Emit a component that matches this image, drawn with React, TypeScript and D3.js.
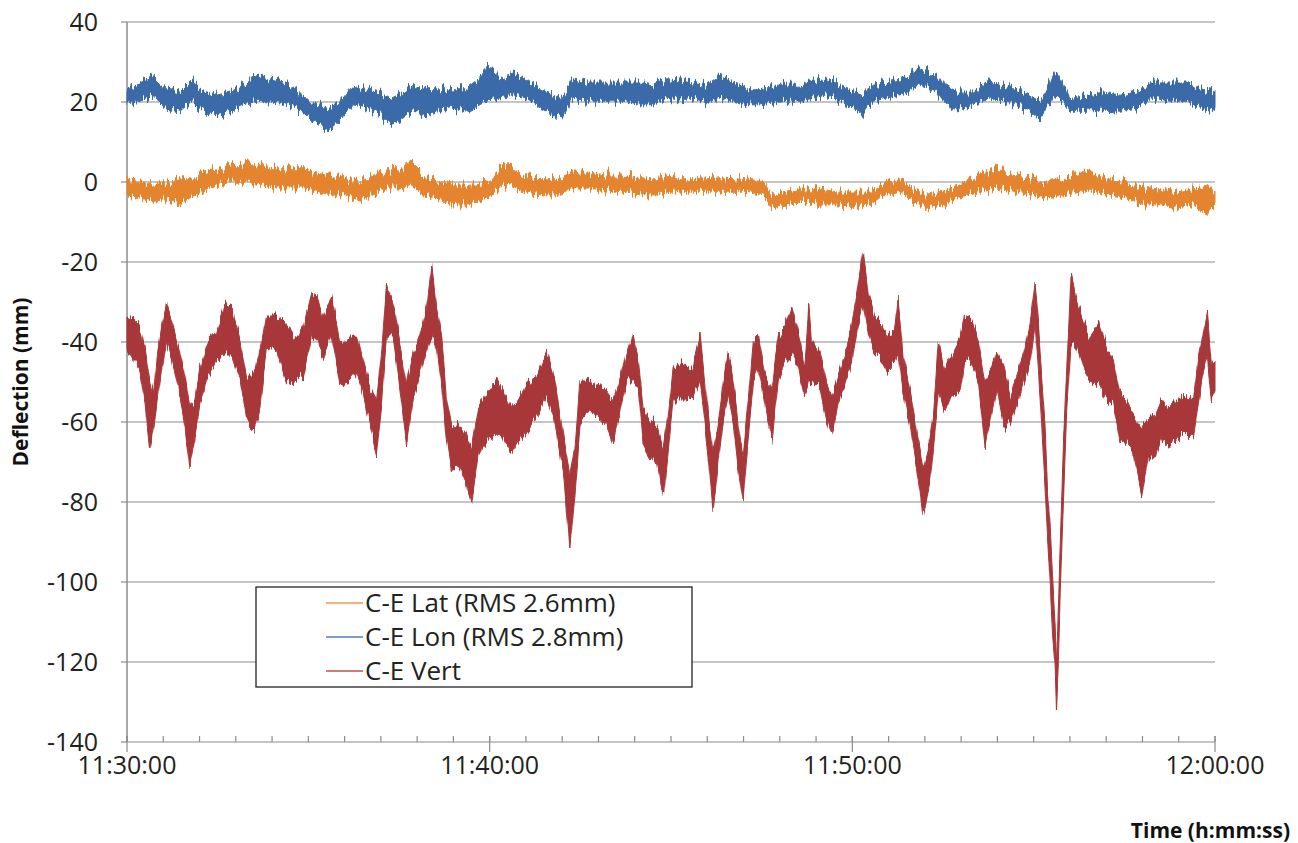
import React from "react";
import * as d3 from "d3";

// minutes after 11:30:00, with the lower / upper edge of the noisy trace (mm)
const latTime = [0, 0.36, 0.73, 1.09, 1.46, 1.83, 2.1, 2.47, 2.84, 3.35, 3.76, 4.13, 4.5, 4.86, 5.24, 5.6, 6.06, 6.43, 6.79, 7.16, 7.53, 7.8, 8.17, 8.54, 9.0, 9.46, 9.92, 10.28, 10.56, 10.93, 11.39, 11.85, 12.3, 12.76, 13.23, 13.69, 14.14, 14.6, 14.97, 15.25, 15.61, 16.35, 17.09, 17.55, 17.78, 18.2, 18.65, 19.11, 19.57, 20.03, 20.49, 20.86, 21.32, 21.68, 22.05, 22.51, 22.88, 23.52, 23.98, 24.44, 24.9, 25.36, 25.82, 26.28, 26.65, 27.11, 27.57, 28.03, 28.49, 28.95, 29.4, 29.77, 30];
const latLo = [-3.7, -4.5, -5.3, -4.9, -6, -4, -2.8, -1.2, -0.3, -0.3, -1.2, -2, -2, -2, -2.8, -3.7, -3.7, -5.3, -3.7, -2, -2, -1.2, -3.7, -4.5, -6.2, -6.2, -4.5, -2, -1.2, -2.8, -3.7, -3.7, -2, -2, -2.8, -2.8, -3.7, -3.7, -2.8, -2.8, -2.8, -2.8, -2.8, -3.7, -7, -6.2, -5.3, -6.2, -6.2, -6.6, -6.2, -3.7, -2.8, -5.3, -7, -6.2, -4.5, -2.8, -2, -2.8, -3.7, -4.5, -3.7, -2.8, -2.8, -3.7, -4.5, -6.2, -6.2, -7, -6.2, -8.5, -6.2];
const latHi = [1.3, 0.5, -0.3, 0.5, 1.3, 1.3, 3, 3.8, 4.7, 5.5, 4.7, 3.8, 3.8, 3.8, 3, 2.2, 1.3, 0.5, 2.2, 3, 3.8, 5.5, 2.2, 0.5, -0.3, -0.3, 0.5, 3.8, 4.7, 2.2, 1.3, 1.3, 3, 3, 2.2, 2.2, 1.3, 1.3, 2.2, 1.3, 1.3, 1.8, 1.3, 0.5, -2.8, -2, -1.2, -1.2, -2, -2, -2, 0.5, 1.3, -1.2, -2.8, -2, -0.3, 2.2, 3.8, 2.2, 1.3, 0.5, 1.3, 3, 2.2, 1.3, 0.5, -1.2, -1.2, -2, -1.2, -0.3, -2];

const lonTime = [0, 0.36, 0.73, 1.09, 1.46, 1.78, 2.1, 2.47, 2.84, 3.21, 3.58, 3.94, 4.31, 4.68, 5.0, 5.32, 5.55, 5.87, 6.24, 6.61, 6.98, 7.25, 7.53, 7.9, 8.26, 8.63, 9.0, 9.37, 9.73, 9.93, 10.28, 10.65, 11.02, 11.39, 11.75, 11.98, 12.3, 12.67, 13.04, 13.41, 13.78, 14.14, 14.51, 14.88, 15.25, 15.61, 15.98, 16.35, 16.72, 17.09, 17.46, 17.83, 18.2, 18.56, 18.93, 19.3, 19.67, 20.03, 20.26, 20.58, 20.95, 21.32, 21.68, 21.95, 22.32, 22.6, 22.88, 23.34, 23.8, 24.17, 24.54, 24.9, 25.18, 25.41, 25.63, 25.82, 26.0, 26.47, 26.93, 27.38, 27.84, 28.3, 28.76, 29.22, 29.59, 30];
const lonLo = [19, 19.7, 21, 18, 17.2, 19.7, 17.2, 16.3, 17.2, 18.8, 19.7, 19.5, 19.2, 18, 15.5, 13.8, 12.2, 14.7, 18.8, 18, 16.3, 13.8, 14.7, 17.2, 16.3, 17.2, 18, 17.2, 18.8, 20, 20.5, 21.3, 20.5, 18, 16.3, 15.5, 20.5, 19.7, 19.7, 19.7, 19.7, 18.8, 18.8, 20.5, 20, 20.5, 19.3, 20.5, 19.7, 18.8, 18.8, 19.3, 19.7, 19.7, 20.5, 21.3, 19.7, 18, 16.5, 19.7, 20.5, 21.3, 23, 23.8, 22.2, 18.8, 17.5, 18.8, 20.5, 19.7, 18.8, 17.2, 15, 18.8, 21.3, 19.7, 17.2, 17.2, 17.5, 17.2, 18, 20.5, 19.7, 19.7, 18, 17.2];
const lonHi = [24, 25, 26.8, 23.8, 23, 25.9, 23, 22.2, 23, 24.7, 27.6, 26.3, 25.5, 23.8, 20.5, 19.7, 18.8, 20.5, 24.7, 23.8, 23, 21.3, 22.5, 24.7, 23.8, 23.8, 23.8, 23.8, 26.3, 30, 26.3, 27.5, 26.3, 23.8, 22.2, 21.3, 26.3, 25.5, 25.5, 25.5, 25.5, 25.5, 24.7, 26.3, 26, 25.5, 24.7, 27.2, 25.5, 23.8, 23.8, 24.7, 24.7, 24.7, 25.5, 26.3, 24.7, 23, 22.2, 24.7, 25.5, 26.3, 28, 28.8, 27.2, 24.7, 23, 23, 26.3, 24.7, 23.8, 22.2, 20.5, 24.7, 28.8, 24.7, 21.3, 22.2, 23, 22.2, 23, 25.5, 25.5, 25.5, 23.8, 23];

const vertTime = [0, 0.2, 0.36, 0.5, 0.63, 0.73, 0.85, 0.95, 1.09, 1.23, 1.37, 1.55, 1.74, 1.87, 2.01, 2.2, 2.47, 2.7, 2.9, 3.12, 3.3, 3.5, 3.67, 3.85, 4.13, 4.4, 4.68, 4.86, 5.1, 5.24, 5.4, 5.64, 5.87, 6.15, 6.33, 6.52, 6.7, 6.88, 7.02, 7.16, 7.34, 7.53, 7.71, 7.9, 8.08, 8.26, 8.4, 8.54, 8.68, 8.81, 8.95, 9.14, 9.32, 9.5, 9.69, 9.92, 10.19, 10.38, 10.61, 10.79, 11.02, 11.29, 11.57, 11.8, 12.03, 12.21, 12.35, 12.49, 12.67, 12.95, 13.23, 13.41, 13.59, 13.78, 13.96, 14.1, 14.23, 14.42, 14.6, 14.79, 14.92, 15.06, 15.25, 15.43, 15.61, 15.8, 15.94, 16.07, 16.16, 16.3, 16.44, 16.58, 16.72, 16.86, 16.99, 17.13, 17.27, 17.41, 17.59, 17.78, 17.96, 18.14, 18.33, 18.51, 18.69, 18.8, 18.88, 19.11, 19.29, 19.43, 19.61, 19.8, 19.98, 20.16, 20.3, 20.44, 20.62, 20.81, 20.99, 21.17, 21.26, 21.4, 21.58, 21.77, 21.95, 22.09, 22.23, 22.37, 22.55, 22.73, 22.97, 23.1, 23.29, 23.48, 23.66, 23.85, 23.98, 24.17, 24.35, 24.54, 24.72, 24.9, 25.04, 25.13, 25.22, 25.32, 25.38, 25.45, 25.52, 25.59, 25.63, 25.68, 25.74, 25.82, 25.91, 26.03, 26.19, 26.37, 26.55, 26.78, 27.01, 27.2, 27.38, 27.56, 27.75, 27.98, 28.16, 28.35, 28.53, 28.71, 28.94, 29.17, 29.4, 29.54, 29.67, 29.79, 29.9, 30];
const vertHi = [-33, -34, -36, -42, -49, -53, -42, -36, -30, -34, -39, -46, -56, -54, -46, -40, -37, -30, -31, -39, -48, -48, -42, -33, -33, -35, -39, -36, -27, -28, -34, -28, -39, -38, -38, -45, -51, -54, -43, -25, -30, -40, -50, -42, -38, -31, -21, -31, -38, -54, -61, -60, -62, -66, -56, -52, -49, -52, -56, -54, -50, -48, -42, -49, -63, -73, -66, -49, -49, -50, -52, -54, -49, -42, -37, -44, -56, -59, -60, -66, -58, -46, -45, -46, -45, -37, -50, -61, -68, -61, -49, -42, -49, -61, -68, -54, -39, -38, -48, -51, -38, -36, -31, -37, -45, -30, -39, -42, -50, -53, -48, -42, -36, -25, -17, -27, -33, -35, -38, -37, -29, -43, -51, -61, -71, -66, -58, -40, -46, -43, -39, -33, -34, -39, -49, -46, -42, -46, -53, -48, -43, -35, -24, -35, -48, -61, -76, -85, -99, -110, -119, -106, -89, -64, -46, -23, -29, -34, -38, -35, -41, -44, -52, -54, -58, -61, -59, -58, -54, -56, -54, -53, -54, -44, -38, -32, -44, -45];
const vertLo = [-42, -45, -48, -56, -67, -62, -54, -47, -40, -44, -50, -58, -72, -65, -56, -50, -45, -44, -44, -50, -60, -62, -57, -42, -43, -51, -50, -49, -39, -40, -45, -39, -51, -50, -48, -54, -61, -68, -56, -39, -39, -53, -66, -54, -49, -42, -38, -42, -52, -65, -73, -71, -75, -81, -68, -66, -63, -65, -69, -66, -63, -59, -54, -61, -73, -92, -79, -61, -58, -59, -61, -65, -58, -50, -50, -52, -66, -69, -70, -79, -68, -55, -55, -55, -54, -50, -61, -73, -83, -71, -60, -54, -61, -73, -80, -65, -50, -47, -56, -65, -50, -46, -44, -47, -54, -50, -50, -52, -60, -64, -56, -51, -46, -36, -31, -39, -43, -45, -48, -46, -44, -53, -61, -71, -84, -78, -68, -53, -58, -54, -53, -45, -46, -51, -67, -58, -52, -61, -61, -56, -51, -46, -36, -48, -61, -78, -88, -100, -113, -121, -133, -120, -102, -81, -58, -40, -42, -47, -50, -51, -55, -56, -65, -66, -68, -79, -70, -70, -65, -66, -65, -63, -65, -56, -48, -44, -55, -53];

const yTickValues = [40, 20, 0, -20, -40, -60, -80, -100, -120, -140];
const legendLabels = ["C-E Lat (RMS 2.6mm)", "C-E Lon (RMS 2.8mm)", "C-E Vert"];
const legendColors = ["#f79646", "#4f81bd", "#c0504d"];
const traceColors = ["#e5842f", "#3b6aa8", "#a8373a"];

const T0 = new Date(2000, 0, 1, 11, 30, 0);
const toDate = (m: number) => new Date(T0.getTime() + m * 60000);

const W = 1298;
const H = 843;
const left = 127, right = 1215, top = 22, bottom = 742;

export default function App() {
  const x = d3.scaleTime().domain([T0, toDate(30)]).range([left, right]);
  const y = d3.scaleLinear().domain([-140, 40]).range([bottom, top]);
  const fmt = d3.timeFormat("%H:%M:%S");

  const series = [
    { t: latTime, lo: latLo, hi: latHi },
    { t: lonTime, lo: lonLo, hi: lonHi },
    { t: vertTime, lo: vertLo, hi: vertHi },
  ];

  // band between the lower and upper edge of each trace
  const area = d3
    .area<number[]>()
    .x((d) => x(toDate(d[0])))
    .y0((d) => y(d[1]) - 2)
    .y1((d) => y(d[2]) + 2);

  const majorTicks = x.ticks(d3.timeMinute.every(10)!);
  const minorTicks = x.ticks(d3.timeMinute.every(1)!);

  return (
    <svg
      width={W}
      height={H}
      style={{ position: "absolute", left: 0, top: 0, background: "#fff" }}
      fontFamily="'Open Sans', sans-serif"
    >
      <defs>
        {/* column-wise vertical jitter, gives the dense sampled look */}
        <filter id="jitter" x="0" y="0" width={W} height={H} filterUnits="userSpaceOnUse" colorInterpolationFilters="sRGB">
          <feTurbulence type="fractalNoise" baseFrequency="0.4 0.01" numOctaves={3} seed={7} result="noise" />
          <feColorMatrix
            in="noise"
            type="matrix"
            values="1 0 0 0 0  0 0 0 0 0.5  0 0 0 0 0  0 0 0 0 1"
            result="shift"
          />
          <feDisplacementMap in="SourceGraphic" in2="shift" scale={20} xChannelSelector="G" yChannelSelector="R" />
        </filter>
      </defs>

      {/* gridlines */}
      {yTickValues.map((v) => (
        <line key={"g" + v} x1={left} x2={right} y1={y(v)} y2={y(v)} stroke="#8c8c8c" strokeWidth={1.2} />
      ))}
      {/* y axis */}
      <line x1={left} x2={left} y1={top} y2={bottom} stroke="#8c8c8c" strokeWidth={1.5} />
      {yTickValues.map((v) => (
        <g key={"y" + v}>
          <line x1={left - 6} x2={left} y1={y(v)} y2={y(v)} stroke="#8c8c8c" strokeWidth={1.2} />
          <text x={98} y={y(v) + 9} textAnchor="end" fontSize={25} fill="#222">
            {v}
          </text>
        </g>
      ))}
      {/* x axis ticks */}
      {minorTicks.map((d, i) => (
        <line key={"m" + i} x1={x(d)} x2={x(d)} y1={bottom - 6} y2={bottom} stroke="#8c8c8c" strokeWidth={1.2} />
      ))}
      {majorTicks.map((d, i) => (
        <g key={"M" + i}>
          <line x1={x(d)} x2={x(d)} y1={bottom - 6} y2={bottom + 10} stroke="#8c8c8c" strokeWidth={1.2} />
          <text x={x(d)} y={bottom + 32} textAnchor="middle" fontSize={25} fill="#222">
            {fmt(d)}
          </text>
        </g>
      ))}

      {/* traces */}
      <g filter="url(#jitter)">
        {series.map((s, i) => {
          const pts = s.t.map((t, j) => [t, s.lo[j], s.hi[j]]);
          return <path key={"s" + i} d={area(pts) || ""} fill={traceColors[i]} stroke={traceColors[i]} strokeWidth={1} />;
        })}
      </g>

      {/* legend */}
      <rect x={256} y={587} width={436} height={100} fill="#fff" stroke="#222" strokeWidth={1.3} />
      {legendLabels.map((lab, i) => (
        <g key={"l" + i}>
          <line x1={326} x2={363} y1={603 + i * 34} y2={603 + i * 34} stroke={legendColors[i]} strokeWidth={1.3} />
          <text x={365} y={612 + i * 34} fontSize={26} fill="#222">
            {lab}
          </text>
        </g>
      ))}

      {/* axis titles */}
      <text
        transform={`translate(28, ${(top + bottom) / 2}) rotate(-90)`}
        textAnchor="middle"
        fontSize={21}
        fontWeight="bold"
        fill="#111"
      >
        Deflection (mm)
      </text>
      <text x={1290} y={838} textAnchor="end" fontSize={21} fontWeight="bold" fill="#111">
        Time (h:mm:ss)
      </text>
    </svg>
  );
}
